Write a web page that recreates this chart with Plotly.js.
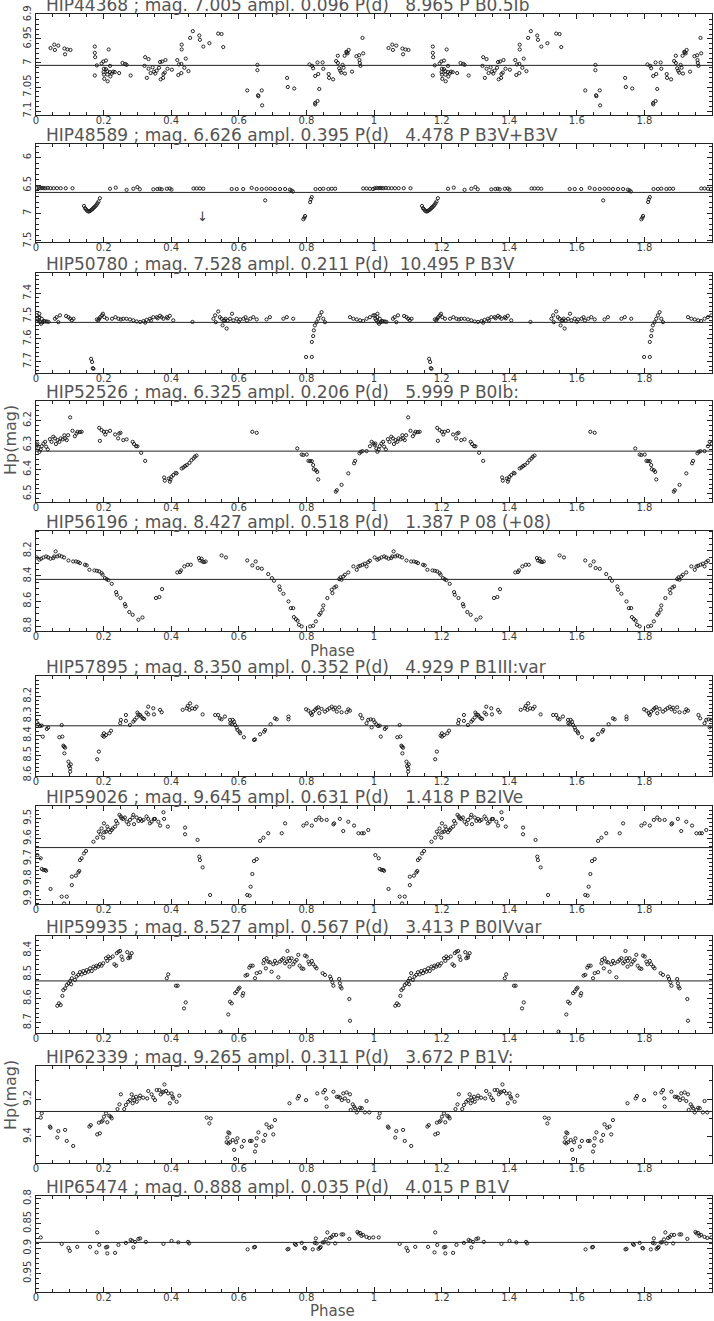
<!DOCTYPE html>
<html><head><meta charset="utf-8">
<script src="https://cdn.plot.ly/plotly-3.0.1.min.js"></script>
<style>html,body{margin:0;padding:0;background:#fff}#c{width:714px;height:1321px}</style>
</head><body><div id="c"></div>
<script>
// ---- data: [phase, Hp magnitude] (phase 0..1, plotted twice) ----
const titles = [
 "HIP44368 ; mag. 7.005 ampl. 0.096 P(d)   8.965 P B0.5Ib",
 "HIP48589 ; mag. 6.626 ampl. 0.395 P(d)   4.478 P B3V+B3V",
 "HIP50780 ; mag. 7.528 ampl. 0.211 P(d)  10.495 P B3V",
 "HIP52526 ; mag. 6.325 ampl. 0.206 P(d)   5.999 P B0Ib:",
 "HIP56196 ; mag. 8.427 ampl. 0.518 P(d)   1.387 P 08 (+08)",
 "HIP57895 ; mag. 8.350 ampl. 0.352 P(d)   4.929 P B1III:var",
 "HIP59026 ; mag. 9.645 ampl. 0.631 P(d)   1.418 P B2IVe",
 "HIP59935 ; mag. 8.527 ampl. 0.567 P(d)   3.413 P B0IVvar",
 "HIP62339 ; mag. 9.265 ampl. 0.311 P(d)   3.672 P B1V:",
 "HIP65474 ; mag. 0.888 ampl. 0.035 P(d)   4.015 P B1V"
];
const meanMag = [7.005, 6.626, 7.528, 6.325, 8.427, 8.350, 9.645, 8.527, 9.265, 0.888];
const xTickLabels = ["0","0.2","0.4","0.6","0.8","1","1.2","1.4","1.6","1.8"];
const yTickLabels = [
 ["6.9","6.95","7","7.05","7.1"],
 ["6","6.5","7","7.5"],
 ["7.4","7.5","7.6","7.7"],
 ["6.2","6.3","6.4","6.5"],
 ["8.2","8.4","8.6","8.8"],
 ["8.2","8.3","8.4","8.5","8.6"],
 ["9.5","9.6","9.7","9.8","9.9"],
 ["8.4","8.5","8.6","8.7"],
 ["9.2","9.4"],
 ["0.8","0.85","0.9","0.95"]
];

const HIP44368 = [[0.043,6.969],[0.056,6.973],[0.054,6.962],[0.066,6.964],[0.084,6.970],[0.086,6.982],[0.093,6.972],[0.102,6.973],
[0.174,6.966],[0.174,6.979],[0.175,6.988],[0.180,7.005],[0.174,7.026],[0.199,6.997],[0.194,7.001],[0.207,6.995],[0.215,6.972],[0.201,7.012],[0.207,7.013],[0.200,7.019],[0.211,7.017],[0.219,7.019],[0.201,7.024],[0.211,7.024],[0.224,7.022],[0.202,7.033],[0.212,7.038],[0.219,7.006],[0.233,7.019],[0.246,7.021],[0.220,7.028],[0.228,7.018],
[0.256,7.000],[0.264,7.002],[0.268,7.004],[0.280,7.026],
[0.323,6.988],[0.333,6.992],[0.328,7.031],[0.321,7.006],[0.333,7.012],[0.339,7.021],[0.345,7.009],[0.349,7.018],[0.353,7.022],[0.357,7.016],[0.364,7.010],[0.369,7.034],[0.376,7.031],[0.367,6.998],[0.373,6.997],[0.383,6.994],[0.381,7.020],[0.377,7.023],[0.389,7.012],[0.402,7.014],[0.418,6.994],[0.423,7.003],[0.430,7.002],[0.431,6.962],[0.431,6.972],[0.421,7.025],[0.430,7.021],[0.443,6.991],[0.439,7.010],[0.451,7.017],[0.456,6.948],[0.464,6.934],[0.483,6.943],[0.485,6.952],[0.495,6.966],[0.513,6.959],[0.539,6.939],[0.549,6.940],[0.554,6.967],
[0.625,7.057],[0.655,7.004],[0.655,7.015],[0.657,7.067],[0.658,7.069],[0.668,7.057],[0.669,7.088],[0.743,7.031],[0.745,7.050],[0.764,7.053],
[0.809,7.003],[0.817,7.006],[0.820,7.011],[0.826,7.027],[0.833,6.999],[0.835,7.023],[0.826,7.083],[0.826,7.086],[0.833,7.079],[0.838,7.054],[0.848,6.999],[0.850,7.012],[0.866,7.023],[0.867,7.031],[0.879,7.034],[0.888,6.996],[0.893,7.000],[0.897,7.011],[0.893,6.985],[0.900,7.016],[0.903,7.020],[0.907,7.004],[0.910,7.010],[0.914,7.022],[0.913,6.985],[0.918,6.977],[0.920,6.978],[0.925,6.973],[0.922,6.980],[0.935,7.018],[0.948,6.986],[0.956,6.984],[0.957,6.994],[0.958,7.000],[0.960,7.006],[0.966,6.948],[0.968,6.980]];

const HIP48589 = [[0.002,6.55],[0.008,6.545],[0.013,6.55],[0.018,6.545],[0.023,6.55],[0.028,6.55],[0.035,6.545],[0.043,6.55],[0.052,6.55],[0.062,6.55],[0.073,6.55],[0.088,6.55],[0.108,6.55],
[0.142,6.87],[0.145,6.91],[0.148,6.93],[0.151,6.955],[0.155,6.97],[0.158,6.965],[0.161,6.955],[0.164,6.94],[0.167,6.925],[0.170,6.905],[0.173,6.89],[0.176,6.87],[0.179,6.85],[0.182,6.82],[0.185,6.79],[0.189,6.73],
[0.219,6.56],[0.236,6.54],[0.268,6.58],[0.288,6.56],[0.300,6.53],[0.307,6.57],[0.347,6.57],[0.359,6.565],[0.366,6.56],[0.372,6.57],[0.387,6.56],[0.396,6.555],[0.401,6.575],[0.466,6.555],[0.475,6.555],[0.485,6.555],[0.495,6.56],
[0.579,6.565],[0.594,6.565],[0.613,6.565],[0.638,6.545],[0.653,6.565],[0.668,6.565],[0.682,6.56],[0.694,6.56],[0.707,6.565],[0.722,6.565],[0.737,6.565],[0.751,6.575],[0.756,6.59],[0.760,6.61],[0.678,6.77],
[0.791,7.11],[0.794,7.08],[0.796,7.05],[0.811,6.80],[0.813,6.75],[0.816,6.71],
[0.827,6.565],[0.840,6.565],[0.850,6.56],[0.865,6.565],[0.875,6.56],[0.885,6.56],[0.968,6.555],[0.978,6.555],[0.988,6.56],[0.997,6.565]];

const HIP50780 = [[0.002,7.497],[0.004,7.512],[0.007,7.519],[0.010,7.505],[0.012,7.527],[0.015,7.534],[0.017,7.512],[0.020,7.527],[0.024,7.522],[0.027,7.524],[0.032,7.524],[0.037,7.526],[0.010,7.490],[0.056,7.512],[0.061,7.505],[0.066,7.527],[0.071,7.497],[0.089,7.500],[0.096,7.505],[0.101,7.512],[0.106,7.519],[0.111,7.512],
[0.163,7.688],[0.166,7.702],[0.168,7.729],[0.170,7.732],
[0.180,7.515],[0.184,7.519],[0.187,7.512],[0.190,7.505],[0.195,7.497],[0.198,7.490],[0.202,7.505],[0.210,7.512],[0.225,7.512],[0.235,7.505],[0.244,7.512],[0.251,7.515],[0.258,7.512],[0.268,7.512],[0.278,7.515],[0.288,7.519],[0.298,7.524],[0.308,7.526],[0.318,7.522],[0.327,7.517],[0.337,7.512],[0.347,7.505],[0.357,7.505],[0.367,7.499],[0.377,7.512],[0.387,7.505],[0.396,7.499],[0.406,7.519],[0.323,7.529],[0.340,7.520],[0.360,7.510],[0.372,7.505],[0.390,7.510],
[0.463,7.526],
[0.525,7.512],[0.530,7.497],[0.532,7.527],[0.539,7.480],[0.544,7.505],[0.549,7.512],[0.552,7.541],[0.555,7.520],[0.558,7.519],[0.561,7.512],[0.564,7.555],[0.567,7.520],[0.574,7.512],[0.584,7.519],[0.594,7.512],[0.604,7.515],[0.614,7.512],[0.624,7.520],[0.634,7.512],[0.643,7.505],[0.653,7.515],[0.580,7.490],[0.600,7.525],[0.620,7.505],
[0.682,7.515],[0.692,7.505],[0.732,7.512],[0.742,7.505],[0.761,7.512],
[0.799,7.680],[0.816,7.680],[0.816,7.614],[0.820,7.588],[0.822,7.563],[0.825,7.541],[0.830,7.527],[0.835,7.512],[0.840,7.497],[0.845,7.483],[0.850,7.512],[0.855,7.527],
[0.929,7.505],[0.939,7.512],[0.949,7.515],[0.959,7.519],[0.968,7.522],[0.978,7.512],[0.988,7.505],[0.998,7.497]];

const HIP52526 = [[0.002,6.300],[0.004,6.294],[0.007,6.314],[0.010,6.328],[0.014,6.318],[0.017,6.305],[0.022,6.294],[0.027,6.287],[0.030,6.307],[0.035,6.318],[0.041,6.276],[0.046,6.287],[0.051,6.266],[0.056,6.273],[0.059,6.296],[0.064,6.280],[0.069,6.287],[0.073,6.273],[0.079,6.277],[0.086,6.273],[0.084,6.260],[0.091,6.280],[0.095,6.260],[0.101,6.187],[0.108,6.242],[0.115,6.264],[0.120,6.253],[0.123,6.246],[0.130,6.247],[0.135,6.246],
[0.187,6.230],[0.189,6.283],[0.194,6.239],[0.201,6.246],[0.205,6.257],[0.209,6.246],[0.219,6.242],[0.234,6.257],[0.243,6.273],[0.246,6.253],[0.250,6.250],[0.258,6.280],[0.268,6.277],[0.286,6.287],[0.290,6.296],[0.296,6.305],[0.300,6.305],[0.311,6.332],[0.323,6.365],
[0.379,6.433],[0.381,6.446],[0.393,6.437],[0.396,6.450],[0.398,6.441],[0.401,6.430],[0.406,6.423],[0.413,6.414],[0.416,6.416],[0.431,6.396],[0.436,6.392],[0.441,6.386],[0.446,6.382],[0.454,6.373],[0.460,6.362],[0.466,6.355],[0.470,6.348],[0.475,6.343],
[0.640,6.246],[0.653,6.250],
[0.773,6.314],[0.786,6.339],[0.791,6.341],[0.801,6.339],[0.806,6.365],[0.811,6.366],[0.816,6.366],[0.820,6.382],[0.822,6.399],[0.828,6.403],[0.832,6.410],[0.835,6.441],
[0.887,6.491],[0.890,6.485],[0.904,6.463],[0.924,6.416],[0.941,6.375],[0.944,6.365],[0.957,6.334],[0.961,6.328],[0.966,6.325],[0.978,6.325],[0.988,6.305],[0.993,6.287],[0.998,6.294]];

const HIP56196 = [[0.002,8.253],[0.010,8.271],[0.015,8.263],[0.022,8.253],[0.030,8.245],[0.036,8.253],[0.043,8.263],[0.051,8.258],[0.054,8.245],[0.058,8.205],[0.063,8.245],[0.069,8.237],[0.076,8.245],[0.083,8.253],[0.096,8.277],[0.110,8.285],[0.118,8.285],[0.125,8.290],[0.130,8.298],[0.145,8.311],[0.150,8.316],[0.158,8.351],[0.173,8.356],[0.180,8.359],[0.187,8.364],[0.194,8.377],[0.197,8.390],[0.204,8.417],[0.209,8.425],[0.214,8.433],[0.224,8.462],[0.237,8.528],[0.239,8.549],[0.250,8.575],[0.263,8.623],[0.265,8.641],[0.276,8.686],[0.286,8.708],[0.303,8.747],[0.315,8.729],
[0.355,8.575],[0.365,8.567],[0.373,8.504],
[0.418,8.372],[0.426,8.369],[0.429,8.356],[0.439,8.324],[0.449,8.311],[0.458,8.311],
[0.482,8.258],[0.485,8.277],[0.490,8.263],[0.492,8.285],[0.497,8.290],[0.502,8.285],
[0.549,8.237],[0.562,8.253],
[0.625,8.277],[0.640,8.316],[0.650,8.285],[0.656,8.337],[0.668,8.343],
[0.687,8.385],[0.698,8.417],[0.704,8.438],[0.720,8.483],[0.722,8.509],[0.732,8.541],[0.747,8.602],[0.754,8.655],[0.761,8.655],[0.763,8.726],[0.769,8.742],[0.774,8.755],[0.778,8.787],[0.786,8.800],[0.811,8.800],[0.820,8.795],[0.828,8.760],[0.838,8.708],[0.842,8.694],[0.848,8.668],[0.850,8.634],[0.862,8.575],[0.875,8.509],[0.877,8.536],[0.883,8.491],[0.888,8.483],[0.897,8.425],[0.901,8.411],[0.904,8.430],[0.909,8.404],[0.914,8.390],[0.924,8.372],[0.939,8.324],[0.949,8.351],[0.954,8.324],[0.959,8.319],[0.966,8.311],[0.973,8.303],[0.978,8.324],[0.983,8.290],[0.988,8.279]];

const HIP57895 = [[0.002,8.332],[0.007,8.342],[0.012,8.351],[0.017,8.349],[0.020,8.405],[0.032,8.366],[0.036,8.359],[0.069,8.408],[0.078,8.405],[0.076,8.346],[0.081,8.451],[0.083,8.456],[0.086,8.461],[0.084,8.490],[0.096,8.532],[0.098,8.554],[0.101,8.566],[0.101,8.583],[0.103,8.546],
[0.181,8.520],[0.186,8.481],[0.197,8.400],[0.201,8.388],[0.201,8.405],[0.207,8.397],[0.217,8.388],[0.222,8.375],[0.249,8.337],[0.251,8.320],[0.266,8.295],[0.266,8.325],[0.278,8.346],[0.288,8.329],[0.292,8.320],[0.298,8.308],[0.300,8.283],[0.303,8.292],[0.308,8.295],[0.311,8.303],[0.316,8.312],[0.320,8.315],[0.327,8.283],[0.332,8.253],[0.332,8.292],[0.347,8.261],[0.349,8.292],[0.367,8.269],[0.372,8.281],
[0.434,8.269],[0.446,8.261],[0.449,8.249],[0.456,8.236],[0.454,8.269],[0.462,8.261],[0.470,8.264],[0.475,8.253],[0.493,8.292],
[0.530,8.295],[0.539,8.295],[0.544,8.312],[0.549,8.317],[0.559,8.303],[0.574,8.320],[0.575,8.337],[0.582,8.320],[0.579,8.342],[0.586,8.329],[0.589,8.346],[0.594,8.359],[0.596,8.371],[0.602,8.380],[0.604,8.388],[0.615,8.408],[0.645,8.422],[0.648,8.419],[0.663,8.393],[0.675,8.380],[0.678,8.371],[0.694,8.342],[0.707,8.312],[0.712,8.317],[0.747,8.303],[0.747,8.317],
[0.799,8.266],[0.806,8.273],[0.813,8.286],[0.816,8.295],[0.820,8.278],[0.826,8.269],[0.830,8.261],[0.835,8.256],[0.838,8.286],[0.845,8.264],[0.855,8.278],[0.862,8.269],[0.868,8.261],[0.875,8.253],[0.880,8.266],[0.885,8.258],[0.890,8.278],[0.897,8.256],[0.904,8.281],[0.919,8.281],[0.924,8.266],[0.929,8.273],
[0.960,8.295],[0.965,8.312],[0.978,8.337],[0.983,8.320],[0.990,8.317],[0.993,8.358],[0.998,8.320]];

const HIP59026 = [[0.004,9.682],[0.014,9.698],[0.017,9.751],[0.022,9.756],[0.027,9.756],[0.030,9.760],[0.043,9.850],[0.076,9.888],[0.091,9.888],[0.083,9.922],[0.106,9.831],[0.106,9.789],[0.118,9.784],[0.125,9.768],[0.128,9.761],[0.130,9.707],[0.135,9.698],[0.142,9.674],[0.148,9.662],[0.170,9.616],[0.181,9.596],[0.186,9.566],[0.191,9.579],[0.194,9.550],[0.199,9.596],[0.201,9.525],[0.202,9.569],[0.207,9.566],[0.211,9.541],[0.214,9.555],[0.219,9.569],[0.224,9.558],[0.227,9.550],[0.234,9.541],[0.237,9.513],[0.241,9.525],[0.247,9.483],[0.251,9.491],[0.253,9.500],[0.258,9.503],[0.263,9.496],[0.268,9.517],[0.274,9.529],[0.278,9.508],[0.286,9.496],[0.288,9.483],[0.290,9.529],[0.298,9.496],[0.303,9.513],[0.308,9.503],[0.313,9.513],[0.318,9.508],[0.327,9.491],[0.332,9.503],[0.337,9.525],[0.342,9.517],[0.349,9.503],[0.352,9.503],[0.362,9.517],[0.367,9.536],[0.377,9.470],[0.379,9.503],[0.390,9.541],
[0.441,9.546],[0.441,9.579],[0.478,9.607],[0.483,9.690],[0.485,9.707],[0.493,9.743],[0.515,9.880],
[0.625,9.880],[0.632,9.883],[0.635,9.839],[0.640,9.776],[0.645,9.712],[0.653,9.702],[0.663,9.612],[0.673,9.596],[0.687,9.574],[0.727,9.574],[0.737,9.525],
[0.791,9.536],[0.801,9.525],[0.816,9.536],[0.828,9.508],[0.838,9.496],[0.845,9.508],[0.860,9.508],[0.880,9.530],[0.882,9.525],[0.899,9.503],[0.909,9.563],[0.924,9.517],[0.941,9.536],[0.954,9.574],[0.964,9.574],[0.970,9.574],[0.983,9.558]];

const HIP59935 = [[0.063,8.630],[0.068,8.620],[0.073,8.627],[0.078,8.589],[0.081,8.565],[0.086,8.558],[0.091,8.544],[0.096,8.537],[0.101,8.527],[0.104,8.541],[0.106,8.516],[0.110,8.495],[0.115,8.523],[0.120,8.509],[0.125,8.502],[0.130,8.491],[0.135,8.500],[0.140,8.486],[0.145,8.495],[0.150,8.482],[0.155,8.489],[0.160,8.475],[0.165,8.486],[0.170,8.468],[0.175,8.475],[0.179,8.464],[0.184,8.468],[0.189,8.458],[0.194,8.464],[0.199,8.454],[0.207,8.433],[0.211,8.444],[0.214,8.426],[0.219,8.433],[0.227,8.426],[0.232,8.458],[0.237,8.464],[0.239,8.412],[0.244,8.406],[0.249,8.403],[0.253,8.426],[0.256,8.440],[0.270,8.408],[0.273,8.433],[0.278,8.422],[0.283,8.412],[0.278,8.430],
[0.387,8.516],[0.391,8.500],[0.414,8.547],[0.419,8.547],[0.438,8.641],[0.443,8.616],
[0.546,8.737],[0.569,8.666],[0.574,8.613],[0.579,8.620],[0.589,8.578],[0.594,8.571],[0.599,8.560],[0.602,8.555],[0.611,8.588],[0.613,8.578],[0.620,8.505],[0.625,8.502],[0.631,8.472],[0.635,8.464],[0.641,8.464],[0.648,8.516],[0.653,8.495],[0.663,8.491],[0.673,8.454],[0.675,8.440],[0.680,8.475],[0.682,8.433],[0.687,8.447],[0.692,8.450],[0.697,8.489],[0.702,8.458],[0.707,8.444],[0.712,8.454],[0.717,8.512],[0.722,8.447],[0.727,8.440],[0.732,8.433],[0.737,8.454],[0.742,8.447],[0.744,8.403],[0.747,8.433],[0.750,8.468],[0.751,8.444],[0.756,8.433],[0.761,8.458],[0.766,8.447],[0.771,8.440],[0.776,8.419],[0.780,8.464],[0.786,8.475],[0.791,8.477],[0.796,8.422],[0.801,8.426],[0.806,8.447],[0.809,8.458],[0.816,8.444],[0.820,8.458],[0.826,8.468],[0.830,8.475],[0.848,8.495],[0.855,8.502],[0.870,8.509],[0.873,8.519],[0.877,8.533],[0.880,8.547],[0.897,8.519],[0.899,8.537],[0.901,8.551],[0.904,8.558],[0.927,8.602],[0.929,8.692]];

const HIP62339 = [[0.014,9.298],[0.017,9.275],[0.041,9.346],[0.043,9.352],[0.066,9.370],[0.063,9.405],[0.086,9.364],[0.091,9.423],[0.110,9.450],[0.158,9.346],[0.162,9.338],[0.181,9.388],[0.189,9.382],[0.186,9.325],[0.194,9.320],[0.197,9.314],[0.201,9.293],[0.207,9.275],[0.211,9.323],[0.217,9.288],[0.221,9.293],[0.224,9.302],[0.241,9.252],[0.247,9.227],[0.251,9.173],[0.261,9.252],[0.266,9.230],[0.273,9.213],[0.278,9.204],[0.283,9.173],[0.286,9.221],[0.288,9.191],[0.291,9.204],[0.296,9.186],[0.298,9.213],[0.306,9.195],[0.308,9.180],[0.317,9.191],[0.329,9.195],[0.332,9.155],[0.342,9.173],[0.347,9.191],[0.352,9.204],[0.357,9.150],[0.365,9.150],[0.369,9.173],[0.374,9.163],[0.377,9.159],[0.380,9.120],[0.385,9.155],[0.391,9.168],[0.396,9.221],[0.401,9.168],[0.404,9.186],[0.406,9.195],[0.416,9.213],[0.424,9.180],
[0.505,9.298],[0.517,9.302],[0.513,9.329],[0.566,9.405],[0.569,9.377],[0.572,9.382],[0.564,9.430],[0.569,9.436],[0.574,9.430],[0.582,9.418],[0.586,9.471],[0.589,9.520],[0.592,9.430],[0.596,9.409],[0.609,9.454],[0.615,9.423],[0.633,9.423],[0.638,9.423],[0.648,9.480],[0.651,9.448],[0.653,9.409],[0.658,9.377],[0.673,9.423],[0.678,9.391],[0.682,9.334],[0.690,9.352],[0.697,9.346],[0.702,9.388],[0.707,9.311],
[0.750,9.221],[0.774,9.195],[0.778,9.182],[0.799,9.204],[0.832,9.168],[0.850,9.163],[0.855,9.150],[0.859,9.195],[0.860,9.239],[0.880,9.159],[0.890,9.186],[0.895,9.186],[0.900,9.191],[0.905,9.204],[0.909,9.168],[0.914,9.195],[0.919,9.163],[0.924,9.209],[0.929,9.173],[0.931,9.257],[0.937,9.227],[0.941,9.239],[0.944,9.248],[0.949,9.270],[0.954,9.257],[0.959,9.245],[0.964,9.248],[0.973,9.270],[0.978,9.209],[0.986,9.270]];

const HIP65474 = [[0.014,0.878],[0.076,0.891],[0.096,0.899],[0.100,0.905],[0.122,0.897],[0.160,0.897],[0.179,0.908],[0.181,0.868],[0.187,0.893],[0.207,0.898],[0.211,0.897],[0.211,0.910],[0.234,0.909],[0.244,0.893],[0.266,0.889],[0.280,0.883],[0.285,0.885],[0.288,0.898],[0.293,0.887],[0.303,0.881],[0.308,0.880],[0.325,0.887],[0.377,0.891],[0.401,0.885],[0.421,0.888],[0.450,0.887],[0.453,0.890],
[0.626,0.902],[0.645,0.898],[0.648,0.897],[0.744,0.902],[0.747,0.901],[0.766,0.891],[0.769,0.893],[0.786,0.889],[0.794,0.899],[0.796,0.900],[0.819,0.902],[0.825,0.889],[0.828,0.880],[0.830,0.890],[0.836,0.901],[0.840,0.899],[0.842,0.897],[0.848,0.888],[0.852,0.888],[0.858,0.882],[0.862,0.868],[0.865,0.890],[0.870,0.879],[0.875,0.877],[0.880,0.873],[0.885,0.890],[0.888,0.873],[0.904,0.872],[0.909,0.872],[0.927,0.881],[0.951,0.867],[0.954,0.870],[0.959,0.869],[0.963,0.875],[0.968,0.873],[0.978,0.877],[0.986,0.879],[0.998,0.878]];

const stars = [HIP44368, HIP48589, HIP50780, HIP52526, HIP56196, HIP57895, HIP59026, HIP59935, HIP62339, HIP65474];

// ---- layout geometry (pixels) ----
const W = 714, H = 1321;
const frames = [[14.3,115],[144.3,242.3],[273,372.7],[401,501.7],[530.7,630.7],[676,776],[806,904.3],[936,1033.3],[1066,1163.3],[1196,1292.3]];
const yRanges = [[7.108,6.899],[7.524,5.76],[7.749,7.311],[6.532,6.12],[8.834,8.041],[8.605,8.097],[9.926,9.439],[8.744,8.341],[9.543,9.021],[0.988,0.795]];
const yMinor = [0.01,0.1,0.02,0.02,0.05,0.02,0.02,0.02,0.1,0.01];
const X0 = 36, X1 = 712;
const FONT = "DejaVu Sans, Liberation Sans, sans-serif";
const INK = "#222";
const TXT = "#3a3a3a";

const traces = [], shapes = [], annotations = [];
const layout = {
  width: W, height: H, margin: {l:0, r:0, t:0, b:0},
  paper_bgcolor: "#fff", plot_bgcolor: "#fff", showlegend: false,
  font: {family: FONT, color: TXT, size: 10}
};

stars.forEach((pts, i) => {
  const k = i + 1, sx = k === 1 ? "" : String(k);
  const ph = pts.map(p => p[0]), mg = pts.map(p => p[1]);
  traces.push({
    type: "scatter", mode: "markers",
    x: ph.concat(ph.map(v => v + 1)), y: mg.concat(mg),
    xaxis: "x" + sx, yaxis: "y" + sx,
    marker: {symbol: "circle-open", size: 3.2, color: "#111", line: {width: 0.9, color: "#111"}},
    hoverinfo: "skip", cliponaxis: true
  });
  const [t, b] = frames[i];
  layout["xaxis" + sx] = {
    domain: [X0 / W, X1 / W], anchor: "y" + sx, range: [0, 2],
    tickmode: "array", tickvals: xTickLabels.map(Number), ticktext: xTickLabels,
    ticks: "inside", ticklen: 5, tickwidth: 1, tickcolor: INK,
    ticklabelstandoff: -4,
    mirror: "allticks", showline: true, linecolor: INK, linewidth: 1,
    showgrid: false, zeroline: false, fixedrange: true,
    tickfont: {family: FONT, size: 10, color: TXT},
    minor: {ticks: "inside", ticklen: 3, dtick: 0.05, tick0: 0, tickcolor: INK, showgrid: false}
  };
  layout["yaxis" + sx] = {
    domain: [1 - b / H, 1 - t / H], anchor: "x" + sx, range: yRanges[i],
    tickmode: "array", tickvals: yTickLabels[i].map(Number), ticktext: yTickLabels[i],
    tickangle: -90,
    ticks: "inside", ticklen: 5, tickwidth: 1, tickcolor: INK,
    mirror: "allticks", showline: true, linecolor: INK, linewidth: 1,
    showgrid: false, zeroline: false, fixedrange: true,
    tickfont: {family: FONT, size: 10, color: TXT},
    minor: {ticks: "inside", ticklen: 3, dtick: yMinor[i], tick0: 0, tickcolor: INK, showgrid: false}
  };
  shapes.push({type: "line", xref: "x" + sx, yref: "y" + sx, x0: 0, x1: 2,
    y0: meanMag[i], y1: meanMag[i], line: {color: INK, width: 1}});
  annotations.push({
    xref: "paper", yref: "paper", x: 44 / W, y: 1 - t / H,
    xanchor: "left", yanchor: "bottom", yshift: -3, showarrow: false,
    text: titles[i].replace(/ /g, "\u00a0"),
    font: {family: FONT, size: 17, color: "#555"}
  });
});

// arrow mark in the HIP48589 panel
annotations.push({xref: "x2", yref: "y2", x: 0.493, y: 7.06, text: "\u2193", showarrow: false,
  font: {family: FONT, size: 13, color: TXT}});

// axis titles
[440, 1095].forEach(yc => annotations.push({
  xref: "paper", yref: "paper", x: 10 / W, y: 1 - yc / H, xanchor: "center", yanchor: "middle",
  text: "Hp(mag)", textangle: -90, showarrow: false, font: {family: FONT, size: 16, color: "#555"}
}));
[651, 1311].forEach(yc => annotations.push({
  xref: "paper", yref: "paper", x: 332 / W, y: 1 - yc / H, xanchor: "center", yanchor: "middle",
  text: "Phase", showarrow: false, borderpad: 0, font: {family: FONT, size: 15, color: "#555"}
}));

layout.shapes = shapes;
layout.annotations = annotations;
Plotly.newPlot("c", traces, layout, {staticPlot: true, displayModeBar: false});
</script></body></html>
